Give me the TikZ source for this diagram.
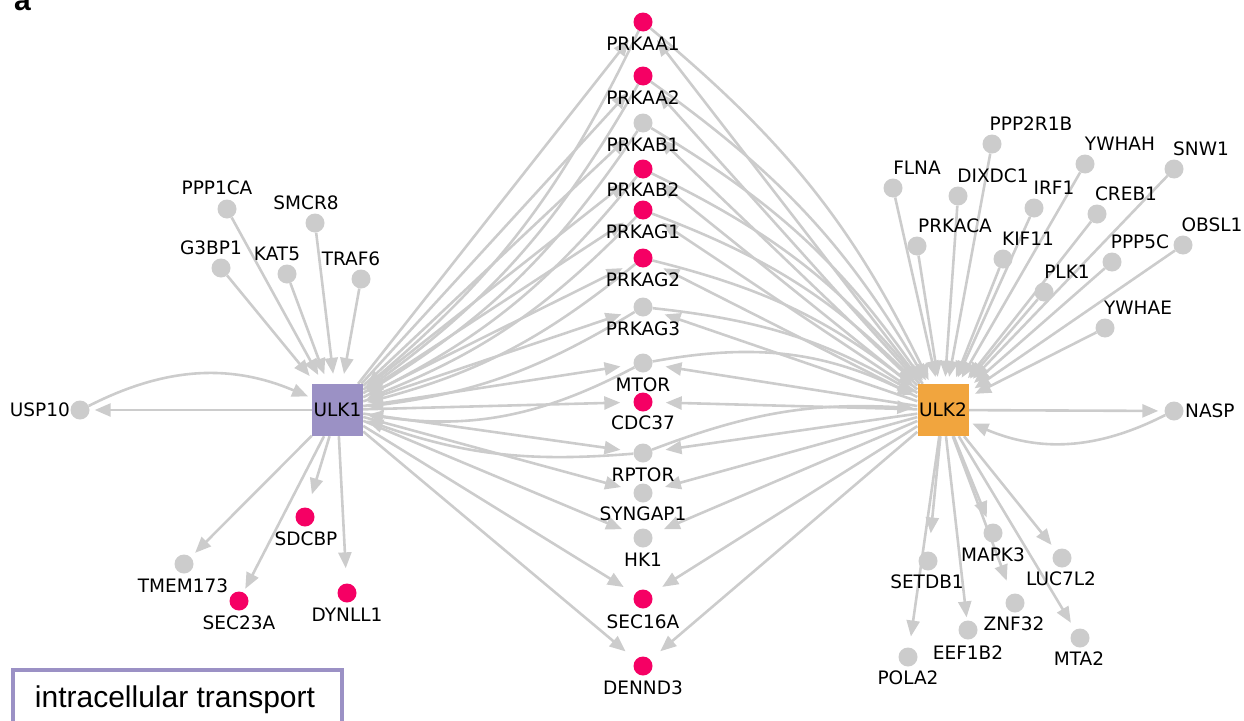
\documentclass[tikz,border=0pt]{standalone}
\usepackage{fontspec}
\setmainfont{DejaVu Sans}
\newfontfamily\arialf{Liberation Sans}
\usetikzlibrary{arrows.meta}
\pgfdeclarelayer{bg}
\pgfsetlayers{bg,main}
\definecolor{ulkone}{RGB}{155,145,197}
\definecolor{ulktwo}{RGB}{241,165,62}
\definecolor{hotpink}{RGB}{245,0,100}
\definecolor{nodegrey}{RGB}{204,204,204}
\tikzset{
  gnode/.style={circle, fill=nodegrey, draw=none, minimum size=19pt, inner sep=0pt},
  rnode/.style={gnode, fill=hotpink},
  lab/.style={font=\fontsize{18.5}{20}\selectfont, inner sep=0pt, text=black},
  hubbox/.style={rectangle, minimum width=51pt, minimum height=52pt, inner sep=0pt, font=\fontsize{18.5}{20}\selectfont},
  conn/.style={draw=nodegrey, line width=2.6pt, -{Triangle[length=16pt,width=13pt]}, shorten >=6pt},
}
\newcommand{\pnode}[7]{%
  \node[#1] (#2) at (#3,#4) {};
  \node[lab, anchor=base] (#2-l) at (#6,{#7+6.7}) {#5};}
\begin{document}
\begin{tikzpicture}[x=1pt,y=-1pt]
\useasboundingbox (0,0) rectangle (1244,720);
\clip (0,0) rectangle (1244,720);
% panel letter
\node[anchor=base west, inner sep=0pt, font=\arialf\bfseries\fontsize{30}{32}\selectfont] (panela) at (14,10) {a};
% legend box
\node[draw=ulkone, line width=4.5pt, minimum width=329pt, minimum height=80pt, anchor=north west, inner sep=0pt] (legbox) at (10.5,667.5) {};
\node[anchor=base, inner sep=0pt, font=\arialf\fontsize{30}{32}\selectfont] (legtext) at (175,707) {intracellular transport};
% hubs
\node[hubbox, fill=ulkone] (ULK1) at (337.5,410) {ULK1};
\node[hubbox, fill=ulktwo] (ULK2) at (943,410) {ULK2};
% middle column
\pnode{rnode}{PRKAA1}{643}{22}{PRKAA1}{643}{44}
\pnode{rnode}{PRKAA2}{643}{76}{PRKAA2}{643}{98}
\pnode{gnode}{PRKAB1}{643}{123}{PRKAB1}{643}{145}
\pnode{rnode}{PRKAB2}{643}{169}{PRKAB2}{643}{190}
\pnode{rnode}{PRKAG1}{643}{210}{PRKAG1}{643}{232}
\pnode{rnode}{PRKAG2}{643}{258}{PRKAG2}{643}{280}
\pnode{gnode}{PRKAG3}{643}{307}{PRKAG3}{643}{329}
\pnode{gnode}{MTOR}{643}{363}{MTOR}{643}{385}
\pnode{rnode}{CDC37}{643}{402}{CDC37}{643}{423}
\pnode{gnode}{RPTOR}{643}{453}{RPTOR}{643}{475}
\pnode{gnode}{SYNGAP1}{643}{493}{SYNGAP1}{643}{514}
\pnode{gnode}{HK1}{643}{538}{HK1}{643}{560}
\pnode{rnode}{SEC16A}{643}{599}{SEC16A}{643}{622}
\pnode{rnode}{DENND3}{643}{666}{DENND3}{643}{688}
% left cluster
\pnode{gnode}{PPP1CA}{227}{209}{PPP1CA}{217}{188}
\pnode{gnode}{SMCR8}{315}{223}{SMCR8}{306}{203}
\pnode{gnode}{G3BP1}{221}{268}{G3BP1}{211}{248}
\pnode{gnode}{KAT5}{287}{274}{KAT5}{277}{254}
\pnode{gnode}{TRAF6}{361}{279}{TRAF6}{351}{259}
\node[gnode] (USP10) at (80,410) {};
\node[lab, anchor=base east] (USP10-l) at (70,416.7) {USP10};
\pnode{rnode}{SDCBP}{305}{517}{SDCBP}{306}{539}
\pnode{gnode}{TMEM173}{184}{564}{TMEM173}{183}{586}
\pnode{rnode}{SEC23A}{239}{601}{SEC23A}{239}{623}
\pnode{rnode}{DYNLL1}{347}{593}{DYNLL1}{347}{615}
% right top cluster
\pnode{gnode}{PPP2R1B}{992}{144}{PPP2R1B}{1031}{124}
\pnode{gnode}{YWHAH}{1085}{164}{YWHAH}{1120}{144}
\pnode{gnode}{SNW1}{1174}{169}{SNW1}{1201}{149}
\pnode{gnode}{FLNA}{893}{188}{FLNA}{917}{168}
\pnode{gnode}{DIXDC1}{958}{196}{DIXDC1}{993}{176}
\pnode{gnode}{IRF1}{1034}{208}{IRF1}{1054}{188}
\pnode{gnode}{CREB1}{1097}{214}{CREB1}{1126}{194}
\pnode{gnode}{PRKACA}{917}{246}{PRKACA}{955}{226}
\pnode{gnode}{KIF11}{1003}{259}{KIF11}{1028}{239}
\pnode{gnode}{OBSL1}{1183}{245}{OBSL1}{1212}{225}
\pnode{gnode}{PPP5C}{1112}{262}{PPP5C}{1140}{242}
\pnode{gnode}{PLK1}{1044}{292}{PLK1}{1067}{272}
\pnode{gnode}{YWHAE}{1105}{328}{YWHAE}{1138}{308}
% right bottom cluster
\node[gnode] (NASP) at (1174,411) {};
\node[lab, anchor=base west] (NASP-l) at (1185,417.7) {NASP};
\pnode{gnode}{MAPK3}{993}{533}{MAPK3}{993}{555}
\pnode{gnode}{SETDB1}{928}{561}{SETDB1}{927}{582}
\pnode{gnode}{LUC7L2}{1062}{558}{LUC7L2}{1061}{579}
\pnode{gnode}{ZNF32}{1015}{603}{ZNF32}{1014}{624}
\pnode{gnode}{EEF1B2}{968}{630}{EEF1B2}{968}{653}
\pnode{gnode}{MTA2}{1080}{638}{MTA2}{1079}{659}
\pnode{gnode}{POLA2}{908}{657}{POLA2}{908}{678}
% edges
\begin{pgfonlayer}{bg}
\foreach \m in {PRKAA1,PRKAA2,PRKAB1,PRKAB2,PRKAG1,PRKAG2,PRKAG3,MTOR,CDC37,RPTOR,SYNGAP1,HK1,SEC16A,DENND3}{
  \draw[conn, shorten >=13pt] (ULK1) -- (\m);
  \draw[conn, shorten >=13pt] (ULK2) -- (\m);
}
\foreach \m in {PRKAA1,PRKAA2,PRKAB1,PRKAB2,PRKAG1,PRKAG2,PRKAG3,RPTOR}{
  \draw[conn, shorten >=4pt] (\m) to[bend left=12] (ULK1);
  \draw[conn, shorten >=4pt] (\m) to[bend left=12] (ULK2);
}
\draw[conn, shorten >=4pt] (MTOR) to[bend left=18] (ULK1);
\draw[conn, shorten >=4pt] (MTOR) to[bend left=18] (ULK2);
% left satellites
\foreach \s in {PPP1CA,SMCR8,G3BP1,KAT5,TRAF6}{
  \draw[conn, shorten >=10pt] (\s) -- (ULK1);
}
\draw[conn, shorten >=5pt] (ULK1) -- (USP10);
\draw[conn, shorten >=4pt] (USP10) to[bend left=25] (ULK1);
\draw[conn, shorten >=14pt] (ULK1) -- (SDCBP);
\draw[conn, shorten >=6pt] (ULK1) -- (TMEM173);
\draw[conn, shorten >=4pt] (ULK1) -- (SEC23A);
\draw[conn, shorten >=15pt] (ULK1) -- (DYNLL1);
% right satellites
\foreach \s in {PPP2R1B,YWHAH,SNW1,FLNA,DIXDC1,IRF1,CREB1,PRKACA,KIF11,OBSL1,PPP5C,PLK1,YWHAE}{
  \draw[conn, shorten >=7pt] (\s) -- (ULK2);
}
\draw[conn, shorten >=6pt] (ULK2) -- (NASP);
\draw[conn, shorten >=4pt] (NASP) to[bend left=25] (ULK2);
\draw[conn, shorten >=7pt] (ULK2) -- (MAPK3);
\draw[conn, shorten >=18pt] (ULK2) -- (SETDB1);
\draw[conn, shorten >=7pt] (ULK2) -- (LUC7L2);
\draw[conn, shorten >=14pt] (ULK2) -- (ZNF32);
\draw[conn, shorten >=3pt] (ULK2) -- (EEF1B2);
\draw[conn, shorten >=8pt] (ULK2) -- (MTA2);
\draw[conn, shorten >=11pt] (ULK2) -- (POLA2);
\end{pgfonlayer}
\end{tikzpicture}
\end{document}
